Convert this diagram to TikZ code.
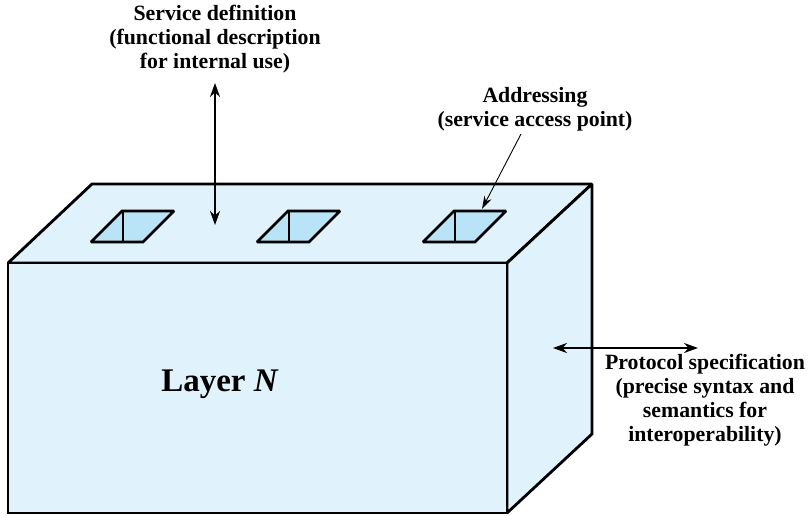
\documentclass[tikz,border=0pt]{standalone}
\usepackage{fontspec}
\setmainfont{Liberation Serif}
\usetikzlibrary{arrows.meta}
\definecolor{facefill}{RGB}{224,242,252}
\definecolor{holefill}{RGB}{185,227,247}

\begin{document}
\begin{tikzpicture}[x=1pt,y=-1pt,
    face/.style={draw=black,fill=facefill,line width=2.8pt,line join=miter,miter limit=2},
    hole/.style={draw=black,fill=holefill,line width=2.8pt,line join=miter,miter limit=2},
    lbl/.style={font=\fontsize{21.8}{24}\selectfont\bfseries,align=center,inner sep=0pt},
    biarrow/.style={{Stealth[length=14pt,width=10pt]}-{Stealth[length=14pt,width=10pt]},line width=2.2pt},
    thinarrow/.style={-{Stealth[length=13pt,width=8pt]},line width=0.9pt}]
        \useasboundingbox (0,0) rectangle (808,516);

        % box corners
        \coordinate (fl) at (8,263);
        \coordinate (fr) at (507,263);
        \coordinate (bl) at (8,513);
        \coordinate (br) at (507,513);
        \coordinate (tl) at (92,184);
        \coordinate (tr) at (592,184);
        \coordinate (rb) at (592,434);

        \draw[face] (fl) -- (tl) -- (tr) -- (fr) -- cycle;
        \draw[face] (fr) -- (tr) -- (rb) -- (br) -- cycle;
        \draw[face] (fl) -- (fr) -- (br) -- (bl) -- cycle;

        % access points
        \foreach \i/\dx in {1/0,2/166,3/332} {
            \draw[hole] (91+\dx,242) -- (122+\dx,211) -- (174+\dx,211) -- (143+\dx,242) -- cycle;
            \draw[line width=2.8pt] (123+\dx,211) -- (123+\dx,242);
        }

        \node (layer) at (220,384) {\fontsize{33}{36}\selectfont\bfseries Layer \textit{N}};

        \node[lbl] (svcdef) at (215,39) {Service definition\\(functional description\\for internal use)};
        \node[lbl] (addr) at (535,109) {Addressing\\(service access point)};
        \node[lbl] (proto) at (705,400) {Protocol specification\\(precise syntax and\\semantics for\\interoperability)};

        \coordinate (svctop) at (215,83);
        \coordinate (svcbot) at (215,225);
        \coordinate (addrtop) at (521,134);
        \coordinate (sap) at (482,209);
        \coordinate (protol) at (553,348);
        \coordinate (protor) at (698,348);

        \draw[biarrow] (svctop) -- (svcbot);
        \draw[thinarrow] (addrtop) -- (sap);
        \draw[biarrow] (protol) -- (protor);
      \end{tikzpicture}
\end{document}
